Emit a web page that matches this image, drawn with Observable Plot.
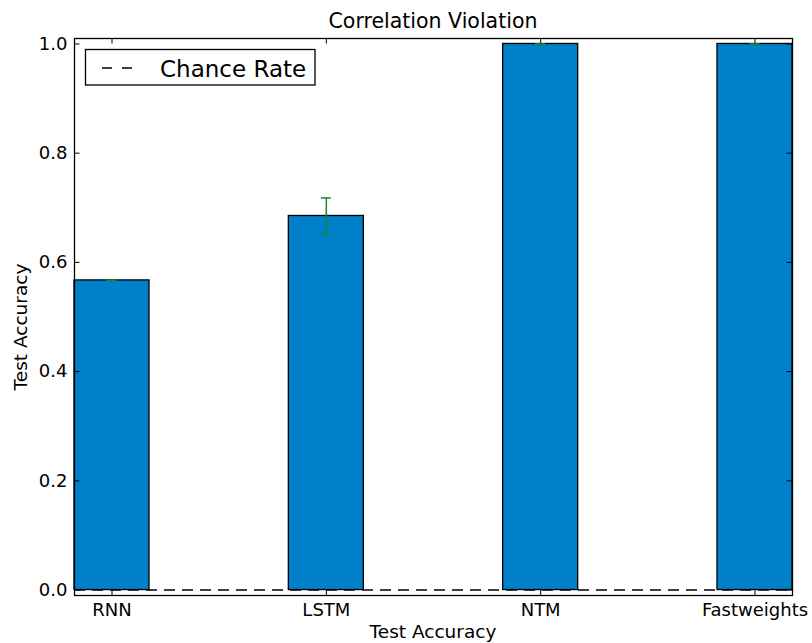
<!DOCTYPE html>
<html>
<head>
<meta charset="utf-8">
<script src="https://cdn.jsdelivr.net/npm/d3@7"></script>
<script src="https://cdn.jsdelivr.net/npm/@observablehq/plot@0.6"></script>
<style>
  html, body { margin: 0; padding: 0; background: white; }
  #chart svg { display: block; }
</style>
</head>
<body>
<div id="chart"></div>
<script>
// Test accuracy per model on the correlation-violation task
const models = ["RNN", "LSTM", "NTM", "Fastweights"];
const accuracy = [0.567, 0.685, 1.0, 1.0];
const accuracyErr = [0.0, 0.033, 0.0, 0.0];
const chanceRate = 0.0;
const yTicks = [0.0, 0.2, 0.4, 0.6, 0.8, 1.0];

const rows = models.map((model, i) => ({
  model,
  accuracy: accuracy[i],
  lo: accuracy[i] - accuracyErr[i],
  hi: accuracy[i] + accuracyErr[i]
}));

const W = 812, H = 643;
const mL = 74, mR = 20, mT = 38, mB = 48;
const frameW = W - mL - mR, frameH = H - mT - mB;
const tickLen = 5.5;
const barBlue = "#0080c8";
const errGreen = "#13882e";
const font = "DejaVu Sans, Liberation Sans, sans-serif";

const chart = Plot.plot({
  width: W,
  height: H,
  marginLeft: mL,
  marginRight: mR,
  marginTop: mT,
  marginBottom: mB,
  style: { fontFamily: font, fontSize: "18px", background: "white", color: "black" },
  x: { type: "band", domain: models, paddingInner: 0.65, paddingOuter: 0, align: 0.5, round: false },
  y: { domain: [-0.01, 1.01] },
  marks: [
    Plot.barY(rows, { x: "model", y: "accuracy", fill: barBlue, stroke: "black", strokeWidth: 1.3 }),
    // error bars with caps
    Plot.ruleX(rows, { x: "model", y1: "lo", y2: "hi", stroke: errGreen, strokeWidth: 1.5 }),
    Plot.tickY(rows, { x: "model", y: "lo", stroke: errGreen, strokeWidth: 1.5, insetLeft: 32.5, insetRight: 32.5 }),
    Plot.tickY(rows, { x: "model", y: "hi", stroke: errGreen, strokeWidth: 1.5, insetLeft: 32.5, insetRight: 32.5 }),
    // chance level
    Plot.ruleY([chanceRate], { stroke: "black", strokeWidth: 1.6, strokeDasharray: "11,7" }),
    Plot.frame({ stroke: "black", strokeWidth: 1.3 }),
    // inward ticks on all four sides
    Plot.ruleY(yTicks, { y: d => d, stroke: "black", strokeWidth: 1, insetRight: frameW - tickLen }),
    Plot.ruleY(yTicks, { y: d => d, stroke: "black", strokeWidth: 1, insetLeft: frameW - tickLen }),
    Plot.ruleX(models, { x: d => d, stroke: "black", strokeWidth: 1, insetBottom: frameH - tickLen }),
    Plot.ruleX(models, { x: d => d, stroke: "black", strokeWidth: 1, insetTop: frameH - tickLen }),
    Plot.axisY(yTicks, { tickSize: 0, tickPadding: 7, tickFormat: d3.format(".1f"), fontSize: 18, label: null }),
    Plot.axisX({ tickSize: 0, tickPadding: 8, fontSize: 18, label: null })
  ]
});

const svg = d3.select(chart);

// title and axis labels
svg.append("text")
  .attr("x", mL + frameW / 2).attr("y", 28)
  .attr("text-anchor", "middle")
  .style("font-family", font).style("font-size", "20.5px").attr("fill", "black")
  .text("Correlation Violation");

svg.append("text")
  .attr("x", mL + frameW / 2).attr("y", 637.5)
  .attr("text-anchor", "middle")
  .style("font-family", font).style("font-size", "18.5px").attr("fill", "black")
  .text("Test Accuracy");

svg.append("text")
  .attr("transform", "translate(27,327) rotate(-90)")
  .attr("text-anchor", "middle")
  .style("font-family", font).style("font-size", "18.5px").attr("fill", "black")
  .text("Test Accuracy");

// legend box
const lg = svg.append("g");
lg.append("rect")
  .attr("x", 85.5).attr("y", 49.5).attr("width", 229.5).attr("height", 35.5)
  .attr("fill", "white").attr("stroke", "black").attr("stroke-width", 1.3);
lg.append("line")
  .attr("x1", 102).attr("x2", 132).attr("y1", 68).attr("y2", 68)
  .attr("stroke", "black").attr("stroke-width", 1.6).attr("stroke-dasharray", "10,10");
lg.append("text")
  .attr("x", 160).attr("y", 77)
  .attr("text-anchor", "start")
  .style("font-family", font).style("font-size", "23px").attr("fill", "black")
  .text("Chance Rate");

document.getElementById("chart").appendChild(chart);
</script>
</body>
</html>
